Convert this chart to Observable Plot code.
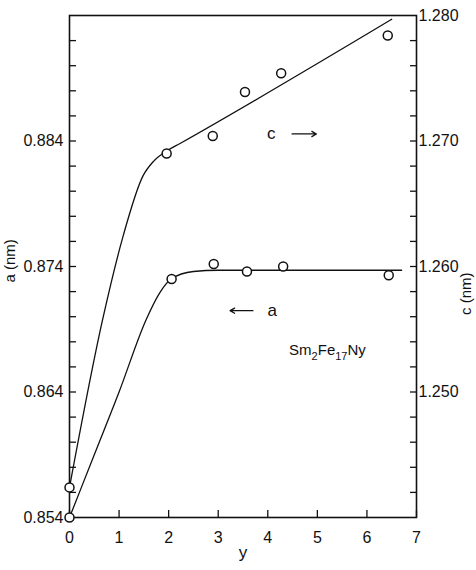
<!DOCTYPE html>
<html>
<head>
<meta charset="utf-8">
<script src="https://cdn.jsdelivr.net/npm/d3@7"></script>
<script src="https://cdn.jsdelivr.net/npm/@observablehq/plot@0.6"></script>
<style>
  html, body { margin: 0; padding: 0; background: #fff; }
</style>
</head>
<body>
<div id="chart"></div>
<script>
// ---- data ----
// measured points, lattice parameter a (nm)
const aPointY = [0, 2.06, 2.91, 3.58, 4.31, 6.44];
const aPointVal = [0.8540, 0.8730, 0.8742, 0.8736, 0.8740, 0.8733];
// measured points, lattice parameter c (nm)
const cPointY = [0, 1.96, 2.89, 3.54, 4.27, 6.42];
const cPointVal = [1.2424, 1.2690, 1.2704, 1.2739, 1.2754, 1.2784];
// hand-drawn guide curves
const aCurveY = [0, 0.5, 1.0, 1.55, 1.82, 2.05, 2.5, 3.0, 6.7];
const aCurveVal = [0.8540, 0.8590, 0.8640, 0.8698, 0.8719, 0.8730, 0.8736, 0.8737, 0.8737];
const cCurveY = [0, 0.67, 1.08, 1.48, 1.7, 1.96, 2.23, 6.5];
const cCurveVal = [1.2424, 1.2558, 1.2624, 1.2672, 1.2684, 1.2692, 1.2698, 1.2797];

// axes
const xTicks = [0, 1, 2, 3, 4, 5, 6, 7];
const aDomain = [0.854, 0.894];
const aLabelTicks = [0.854, 0.864, 0.874, 0.884];
const aMinorTicks = [0.856, 0.858, 0.860, 0.862, 0.864, 0.866, 0.868, 0.870, 0.872, 0.874, 0.876, 0.878, 0.880, 0.882, 0.884, 0.886, 0.888, 0.890, 0.892];
const cLabelTicks = [1.250, 1.260, 1.270, 1.280];
const cMinorTicks = [1.242, 1.244, 1.246, 1.248, 1.250, 1.252, 1.254, 1.256, 1.258, 1.260, 1.262, 1.264, 1.266, 1.268, 1.270, 1.272, 1.274, 1.276, 1.278];
const cOffset = 0.386; // c axis = a axis + 0.386 (1.240 at bottom, 1.280 at top)

// annotations
const annoLabels = ["c", "a"];
const annoY = [4.07, 4.09];
const annoVal = [0.88456, 0.87048];
const arrowFromY = [4.49, 3.70];
const arrowToY = [4.98, 3.24];
const compoundLabel = "Sm2Fe17Ny";
const compoundY = 4.43;
const compoundVal = 0.86736;

// ---- build tables ----
const aPoints = aPointY.map((y, i) => ({y, v: aPointVal[i]}));
const cPoints = cPointY.map((y, i) => ({y, v: cPointVal[i] - cOffset}));
const aCurve = aCurveY.map((y, i) => ({y, v: aCurveVal[i]}));
const cCurve = cCurveY.map((y, i) => ({y, v: cCurveVal[i] - cOffset}));
const annos = annoLabels.map((t, i) => ({t, y: annoY[i], v: annoVal[i], y1: arrowFromY[i], y2: arrowToY[i]}));

const fmt3 = d3.format(".3f");
const tickFont = 16;

const chart = Plot.plot({
  width: 476,
  height: 570,
  marginLeft: 69,
  marginRight: 60,
  marginTop: 15,
  marginBottom: 53,
  style: {fontFamily: "'Liberation Sans', Arial, sans-serif", fontSize: "15.5px", color: "#111", background: "#fff"},
  x: {domain: [0, 7]},
  y: {domain: aDomain},
  marks: [
    Plot.frame({stroke: "#111", strokeWidth: 1.6}),
    // x axis: inward ticks + labels
    Plot.axisX({ticks: xTicks, tickSize: -7, tickFormat: () => "", label: null, strokeWidth: 1.3}),
    Plot.axisX({ticks: xTicks, tickSize: 0, tickPadding: 14, label: null, tickFormat: d3.format("d"), fontSize: tickFont}),
    // left axis (a)
    Plot.axisY({anchor: "left", ticks: aMinorTicks, tickSize: -7, tickFormat: () => "", label: null, strokeWidth: 1.3}),
    Plot.axisY({anchor: "left", ticks: aLabelTicks, tickSize: 0, tickPadding: 6, tickFormat: fmt3, label: null, fontSize: tickFont}),
    // right axis (c)
    Plot.axisY({anchor: "right", ticks: cMinorTicks.map(c => c - cOffset), tickSize: -7, tickFormat: () => "", label: null, strokeWidth: 1.3}),
    Plot.axisY({anchor: "right", ticks: cLabelTicks.map(c => c - cOffset), tickSize: 0, tickPadding: 2, tickFormat: d => fmt3(d + cOffset), label: null, fontSize: tickFont}),
    // axis titles
    Plot.text(["y"], {frameAnchor: "bottom", dy: 40, text: d => d, fontSize: 17}),
    Plot.text(["a (nm)"], {frameAnchor: "left", dx: -59, dy: 16, rotate: -90, text: d => d, fontSize: 15}),
    Plot.text(["c (nm)"], {frameAnchor: "right", dx: 50, dy: 6, rotate: -90, text: d => d, fontSize: 15}),
    // curves
    Plot.line(aCurve, {x: "y", y: "v", curve: "monotone-x", stroke: "#111", strokeWidth: 1.3}),
    Plot.line(cCurve, {x: "y", y: "v", curve: "monotone-x", stroke: "#111", strokeWidth: 1.3}),
    // points
    Plot.dot(aPoints, {x: "y", y: "v", r: 4.5, stroke: "#111", strokeWidth: 1.5, fill: "#fff"}),
    Plot.dot(cPoints, {x: "y", y: "v", r: 4.5, stroke: "#111", strokeWidth: 1.5, fill: "#fff"}),
    // annotations
    Plot.text(annos, {x: "y", y: "v", text: "t", fontSize: 17}),
    Plot.arrow(annos, {x1: "y1", y1: "v", x2: "y2", y2: "v", stroke: "#111", strokeWidth: 1.3, headLength: 6}),
    Plot.text([compoundLabel], {x: () => compoundY, y: () => compoundVal, text: d => d, textAnchor: "start", fontSize: 15})
  ]
});

// render subscripts in the compound label (Sm₂Fe₁₇Ny)
chart.querySelectorAll("text").forEach(el => {
  if (el.textContent === compoundLabel) {
    el.textContent = "";
    const parts = [["Sm", 0], ["2", 1], ["Fe", 0], ["17", 1], ["Ny", 0]];
    let prev = 0;
    parts.forEach(([s, sub]) => {
      const ts = document.createElementNS("http://www.w3.org/2000/svg", "tspan");
      ts.textContent = s;
      const shift = sub ? 5 : 0;
      ts.setAttribute("dy", String(shift - prev));
      if (sub) ts.setAttribute("font-size", "11");
      prev = shift;
      el.appendChild(ts);
    });
  }
});

document.getElementById("chart").appendChild(chart);
</script>
</body>
</html>
